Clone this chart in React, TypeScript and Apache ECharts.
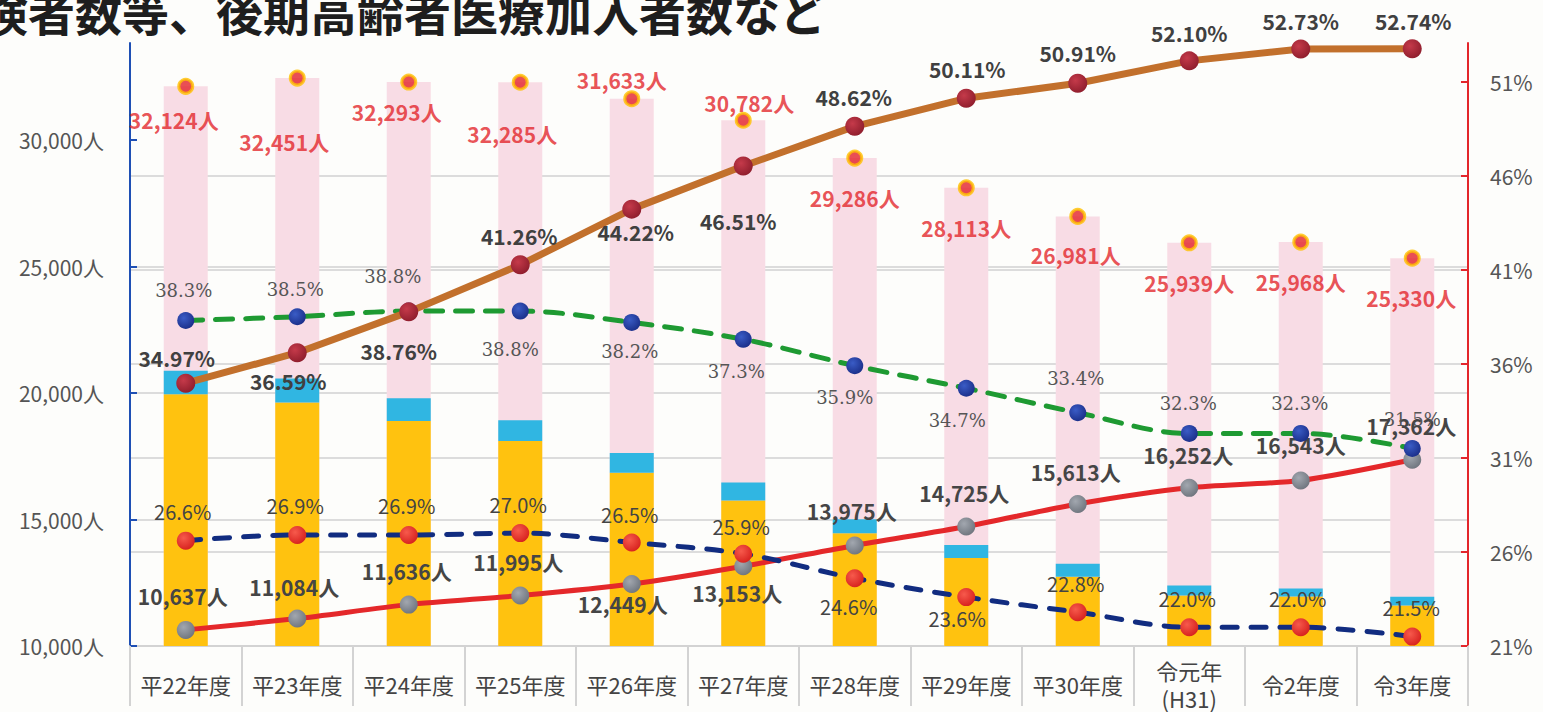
import React, { useEffect, useRef } from 'react';
import * as echarts from 'echarts';

// ---- data ----
const categories = ['平22年度', '平23年度', '平24年度', '平25年度', '平26年度', '平27年度', '平28年度', '平29年度', '平30年度', '令元年\n(H31)', '令2年度', '令3年度'];
const totalInsured = [32124, 32451, 32293, 32285, 31633, 30782, 29286, 28113, 26981, 25939, 25968, 25330];
const yellowPart = [19950, 19630, 18890, 18100, 16850, 15750, 14460, 13480, 12740, 12000, 11960, 11600];
const cyanPart = [930, 940, 900, 820, 780, 710, 550, 510, 510, 390, 310, 350];
const lateElderly = [10637, 11084, 11636, 11995, 12449, 13153, 13975, 14725, 15613, 16252, 16543, 17362];
const brownRate = [34.97, 36.59, 38.76, 41.26, 44.22, 46.51, 48.62, 50.11, 50.91, 52.10, 52.73, 52.74];
const greenRate = [38.3, 38.5, 38.8, 38.8, 38.2, 37.3, 35.9, 34.7, 33.4, 32.3, 32.3, 31.5];
const navyRate = [26.6, 26.9, 26.9, 27.0, 26.5, 25.9, 24.6, 23.6, 22.8, 22.0, 22.0, 21.5];
const leftTicks = [10000, 15000, 20000, 25000, 30000];
const rightTicks = [21, 26, 31, 36, 41, 46, 51];
const titleText = '険者数等、後期高齢者医療加入者数など';

// ---- label placement (style) ----
const totalLabelOffsets = [[-12, 34], [-13, 64], [-12, 30], [-8, 52], [-10, -19], [6, -17], [0, 40], [0, 40], [-2, 39], [0, 40], [0, 40], [-1, 40]];
const grayLabelOffsets = [[-3, -34], [-3, -32], [-2, -34], [-2, -34], [-9, 20], [-6, 27], [-3, -34], [-2, -33], [-2, -32], [-1, -33], [0, -35], [-1, -34]];
const brownLabelOffsets = [[-9, -25], [-9, 28], [-10, 39], [-1, -29], [4, 23], [-5, 55], [-1, -29], [1, -29], [0, -30], [0, -28], [0, -28], [1, -28]];
const greenLabelOffsets = [[-2, -30], [-2, -27], [-16, -35], [-10, 38], [-2, 29], [-7, 32], [-10, 32], [-9, 32], [-2, -34], [-1, -30], [-1, -30], [0, -29]];
const navyLabelOffsets = [[-3, -29], [-2, -29], [-2, -29], [-2, -29], [-2, -28], [-2, -27], [-6, 28], [-9, 21], [-2, -29], [-2, -29], [-3, -29], [-1, -29]];

const FONT = '"Noto Sans CJK JP", "Noto Sans", sans-serif';
const SERIF = '"DejaVu Serif", "Liberation Serif", serif';

const fmtInt = (v: number) => v.toLocaleString('en-US');

function dot(c0: string, c1: string) {
  return {
    type: 'radial', x: 0.38, y: 0.35, r: 0.7,
    colorStops: [{ offset: 0, color: c0 }, { offset: 1, color: c1 }],
  };
}

function withOffsets(values: number[], offsets: number[][]) {
  return values.map((v, i) => ({ value: v, label: { offset: offsets[i] } }));
}

const baseLabel = {
  show: true,
  position: 'inside',
  textBorderWidth: 0,
  textBorderColor: 'transparent',
  fontFamily: FONT,
};

export default function App() {
  const ref = useRef<HTMLDivElement>(null);

  useEffect(() => {
    if (!ref.current) return;
    const chart = echarts.init(ref.current, undefined, { renderer: 'svg' });
    const option: any = {
      animation: false,
      backgroundColor: '#FDFDFB',
      grid: { left: 130, right: 75, top: 43, bottom: 60, containLabel: false },
      graphic: [
        {
          type: 'text',
          x: -19,
          y: -13,
          style: {
            text: titleText,
            font: `bold 47px ${FONT}`,
            fill: '#1E1E1E',
            verticalAlign: 'top',
          },
        },
      ],
      xAxis: {
        type: 'category',
        data: categories,
        boundaryGap: true,
        axisLine: { show: true, lineStyle: { color: '#D3D3D3', width: 2 } },
        axisTick: { show: true, interval: 0, length: 60, lineStyle: { color: '#D3D3D3', width: 2 } },
        axisLabel: {
          interval: 0,
          fontSize: 22,
          color: '#444',
          fontFamily: FONT,
          verticalAlign: 'middle',
          margin: 38,
          lineHeight: 28,
        },
        splitLine: { show: false },
      },
      yAxis: [
        {
          type: 'value',
          position: 'left',
          min: 10000,
          max: 33836,
          interval: 5000,
          axisLine: { show: true, lineStyle: { color: '#1E4FB4', width: 2 } },
          axisTick: { show: true, inside: true, length: 7, customValues: leftTicks, lineStyle: { color: '#1E4FB4', width: 2 } },
          axisLabel: {
            customValues: leftTicks,
            formatter: (v: number) => fmtInt(v) + '人',
            fontSize: 21,
            color: '#555',
            fontFamily: FONT,
            margin: 26,
          },
          splitLine: { show: true, showMaxLine: false, lineStyle: { color: '#DCDCDC', width: 2 } },
        },
        {
          type: 'value',
          position: 'right',
          min: 21,
          max: 53.05,
          interval: 5,
          axisLine: { show: true, lineStyle: { color: '#E3262B', width: 2 } },
          axisTick: { show: true, inside: true, length: 7, customValues: rightTicks, lineStyle: { color: '#E3262B', width: 2 } },
          axisLabel: {
            customValues: rightTicks,
            formatter: (v: number) => v + '%',
            fontSize: 21,
            color: '#555',
            fontFamily: FONT,
            margin: 22,
          },
          splitLine: { show: true, showMaxLine: false, lineStyle: { color: '#DCDCDC', width: 2 } },
        },
      ],
      series: [
        {
          name: 'total-bar',
          type: 'bar',
          yAxisIndex: 0,
          data: totalInsured,
          barWidth: 44,
          barGap: '-100%',
          itemStyle: { color: '#F8DCE5' },
          z: 1,
        },
        {
          name: 'yellow',
          type: 'bar',
          yAxisIndex: 0,
          stack: 'a',
          data: yellowPart,
          barWidth: 44,
          barGap: '-100%',
          itemStyle: { color: '#FFC20F' },
          z: 2,
        },
        {
          name: 'cyan',
          type: 'bar',
          yAxisIndex: 0,
          stack: 'a',
          data: cyanPart,
          barWidth: 44,
          barGap: '-100%',
          itemStyle: { color: '#30B6E2' },
          z: 2,
        },
        {
          name: 'late-elderly',
          type: 'line',
          yAxisIndex: 0,
          data: withOffsets(lateElderly, grayLabelOffsets),
          smooth: 0.25,
          symbol: 'circle',
          symbolSize: 18,
          lineStyle: { color: '#E4282A', width: 5 },
          itemStyle: { color: dot('#A2A7AF', '#6E747D') },
          label: {
            ...baseLabel,
            formatter: (p: any) => fmtInt(p.value) + '人',
            fontSize: 21,
            fontWeight: 'bold',
            color: '#454545',
          },
          z: 3,
        },
        {
          name: 'navy',
          type: 'line',
          yAxisIndex: 1,
          data: withOffsets(navyRate, navyLabelOffsets),
          smooth: 0.35,
          symbol: 'circle',
          symbolSize: 18,
          lineStyle: { color: '#112C80', width: 5, type: [15, 14], cap: 'round' },
          itemStyle: { color: dot('#F75A4C', '#D6201D') },
          label: {
            ...baseLabel,
            formatter: (p: any) => p.value.toFixed(1) + '%',
            fontSize: 20,
            color: '#444',
          },
          z: 4,
        },
        {
          name: 'green',
          type: 'line',
          yAxisIndex: 1,
          data: withOffsets(greenRate, greenLabelOffsets),
          smooth: 0.35,
          symbol: 'circle',
          symbolSize: 17,
          lineStyle: { color: '#1E9A32', width: 5, type: [17, 13], cap: 'round' },
          itemStyle: { color: dot('#3A5CC6', '#1A2E88') },
          label: {
            ...baseLabel,
            fontFamily: SERIF,
            formatter: (p: any) => p.value.toFixed(1) + '%',
            fontSize: 18,
            color: '#555',
          },
          z: 5,
        },
        {
          name: 'brown',
          type: 'line',
          yAxisIndex: 1,
          data: withOffsets(brownRate, brownLabelOffsets),
          smooth: false,
          symbol: 'circle',
          symbolSize: 19,
          lineStyle: { color: '#C2702C', width: 7 },
          itemStyle: { color: dot('#C53A4A', '#8E1D2C') },
          label: {
            ...baseLabel,
            formatter: (p: any) => p.value.toFixed(2) + '%',
            fontSize: 21,
            fontWeight: 'bold',
            color: '#404040',
          },
          z: 6,
        },
        {
          name: 'total-dot',
          type: 'scatter',
          yAxisIndex: 0,
          data: withOffsets(totalInsured, totalLabelOffsets),
          symbol: 'circle',
          symbolSize: 14,
          itemStyle: { color: '#E3232A', borderColor: '#FFC000', borderWidth: 3 },
          label: {
            ...baseLabel,
            formatter: (p: any) => fmtInt(p.value) + '人',
            fontSize: 21,
            fontWeight: 'bold',
            color: '#E3262B',
          },
          z: 7,
        },
      ],
    };
    chart.setOption(option);
    return () => chart.dispose();
  }, []);

  return (
    <div
      ref={ref}
      style={{ position: 'fixed', left: 0, top: 0, width: 1543, height: 712 }}
    />
  );
}
